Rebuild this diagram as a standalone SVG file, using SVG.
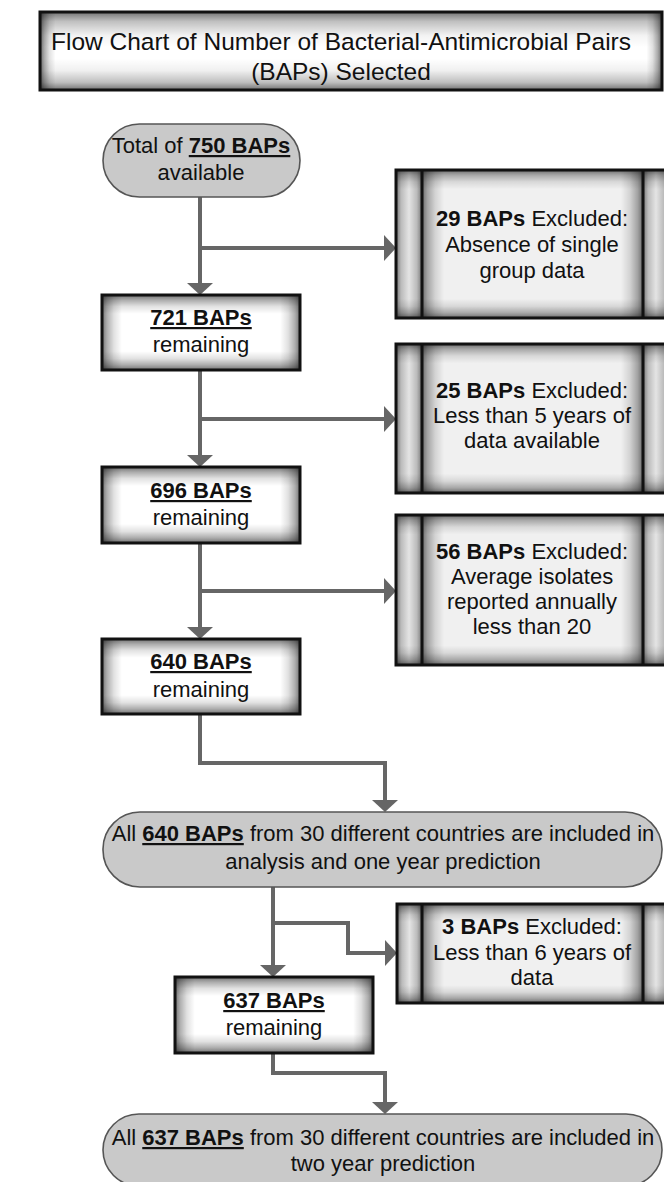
<svg xmlns="http://www.w3.org/2000/svg" width="664" height="1182" viewBox="0 0 664 1182">
<style>
text{font-family:"Liberation Sans",Arial,sans-serif;fill:#111;text-anchor:middle}
.t22{font-size:22px}
.title{font-size:24.5px}
.b{font-weight:bold}
.u{font-weight:bold;text-decoration:underline}
.wf{fill:#ffffff}
.gf{fill:#f0f0f0}
.boxs{fill:none;stroke:#111;stroke-width:3}
.term{fill:#c9c9c9;stroke:#555;stroke-width:1.6}
.con{fill:none;stroke:#666;stroke-width:4;stroke-linejoin:miter}
</style>
<defs>
<linearGradient id="gH6" x1="0" y1="0" x2="1" y2="0">
<stop offset="0" stop-color="#000" stop-opacity="0.55"/>
<stop offset="0.025" stop-color="#000" stop-opacity="0.32"/>
<stop offset="0.06" stop-color="#000" stop-opacity="0.12"/>
<stop offset="0.1" stop-color="#000" stop-opacity="0"/>
<stop offset="0.9" stop-color="#000" stop-opacity="0"/>
<stop offset="0.94" stop-color="#000" stop-opacity="0.12"/>
<stop offset="0.975" stop-color="#000" stop-opacity="0.32"/>
<stop offset="1" stop-color="#000" stop-opacity="0.55"/>
</linearGradient>
<linearGradient id="gH2" x1="0" y1="0" x2="1" y2="0">
<stop offset="0" stop-color="#000" stop-opacity="0.6"/>
<stop offset="0.007" stop-color="#000" stop-opacity="0.33"/>
<stop offset="0.015" stop-color="#000" stop-opacity="0.12"/>
<stop offset="0.025" stop-color="#000" stop-opacity="0"/>
<stop offset="0.975" stop-color="#000" stop-opacity="0"/>
<stop offset="0.985" stop-color="#000" stop-opacity="0.12"/>
<stop offset="0.993" stop-color="#000" stop-opacity="0.33"/>
<stop offset="1" stop-color="#000" stop-opacity="0.6"/>
</linearGradient>
<linearGradient id="gHs" x1="0" y1="0" x2="1" y2="0">
<stop offset="0" stop-color="#000" stop-opacity="0.5"/>
<stop offset="0.2" stop-color="#000" stop-opacity="0.22"/>
<stop offset="0.5" stop-color="#000" stop-opacity="0.05"/>
<stop offset="0.8" stop-color="#000" stop-opacity="0.22"/>
<stop offset="1" stop-color="#000" stop-opacity="0.5"/>
</linearGradient>
<linearGradient id="gV16" x1="0" y1="0" x2="0" y2="1">
<stop offset="0" stop-color="#000" stop-opacity="0.55"/>
<stop offset="0.07" stop-color="#000" stop-opacity="0.32"/>
<stop offset="0.15" stop-color="#000" stop-opacity="0.12"/>
<stop offset="0.25" stop-color="#000" stop-opacity="0"/>
<stop offset="0.75" stop-color="#000" stop-opacity="0"/>
<stop offset="0.85" stop-color="#000" stop-opacity="0.12"/>
<stop offset="0.93" stop-color="#000" stop-opacity="0.32"/>
<stop offset="1" stop-color="#000" stop-opacity="0.55"/>
</linearGradient>
<linearGradient id="gV8" x1="0" y1="0" x2="0" y2="1">
<stop offset="0" stop-color="#000" stop-opacity="0.55"/>
<stop offset="0.035" stop-color="#000" stop-opacity="0.3"/>
<stop offset="0.08" stop-color="#000" stop-opacity="0.1"/>
<stop offset="0.13" stop-color="#000" stop-opacity="0"/>
<stop offset="0.87" stop-color="#000" stop-opacity="0"/>
<stop offset="0.92" stop-color="#000" stop-opacity="0.1"/>
<stop offset="0.965" stop-color="#000" stop-opacity="0.3"/>
<stop offset="1" stop-color="#000" stop-opacity="0.55"/>
</linearGradient>
<linearGradient id="gV12" x1="0" y1="0" x2="0" y2="1">
<stop offset="0" stop-color="#000" stop-opacity="0.55"/>
<stop offset="0.05" stop-color="#000" stop-opacity="0.3"/>
<stop offset="0.11" stop-color="#000" stop-opacity="0.1"/>
<stop offset="0.18" stop-color="#000" stop-opacity="0"/>
<stop offset="0.82" stop-color="#000" stop-opacity="0"/>
<stop offset="0.89" stop-color="#000" stop-opacity="0.1"/>
<stop offset="0.95" stop-color="#000" stop-opacity="0.3"/>
<stop offset="1" stop-color="#000" stop-opacity="0.55"/>
</linearGradient>
<linearGradient id="gVt" x1="0" y1="0" x2="0" y2="1">
<stop offset="0" stop-color="#000" stop-opacity="0.55"/>
<stop offset="0.12" stop-color="#000" stop-opacity="0.25"/>
<stop offset="0.3" stop-color="#000" stop-opacity="0.05"/>
<stop offset="0.45" stop-color="#000" stop-opacity="0"/>
<stop offset="0.6" stop-color="#000" stop-opacity="0"/>
<stop offset="0.75" stop-color="#000" stop-opacity="0.06"/>
<stop offset="0.9" stop-color="#000" stop-opacity="0.25"/>
<stop offset="1" stop-color="#000" stop-opacity="0.55"/>
</linearGradient>
<marker id="ah" markerUnits="userSpaceOnUse" viewBox="0 0 12 26" markerWidth="12" markerHeight="26" refX="0" refY="13" orient="auto">
<path d="M0,0 L12,13 L0,26 Z" fill="#666"/>
</marker>
</defs>

<g id="title">
<rect class="wf" x="40" y="12" width="622" height="78"/>
<rect fill="url(#gVt)" x="40" y="12" width="622" height="78"/>
<rect fill="url(#gH2)" x="40" y="12" width="622" height="78"/>
<rect class="boxs" x="40" y="12" width="622" height="78"/>
<text class="title" x="341" y="50">Flow Chart of Number of Bacterial-Antimicrobial Pairs</text>
<text class="title" x="341" y="80">(BAPs) Selected</text>
</g>

<g id="connectors">
<path class="con" marker-end="url(#ah)" d="M200,197 V283"/>
<path class="con" marker-end="url(#ah)" d="M200,248 H384"/>
<path class="con" marker-end="url(#ah)" d="M200,370 V455"/>
<path class="con" marker-end="url(#ah)" d="M200,419 H384"/>
<path class="con" marker-end="url(#ah)" d="M200,543 V627"/>
<path class="con" marker-end="url(#ah)" d="M200,591 H384"/>
<path class="con" marker-end="url(#ah)" d="M200,714 V763 H385 V800"/>
<path class="con" marker-end="url(#ah)" d="M385,885 H273 V965"/>
<path class="con" marker-end="url(#ah)" d="M273,923 H348 V953 H385"/>
<path class="con" marker-end="url(#ah)" d="M273,1053 V1073 H385 V1102"/>
</g>

<g id="start">
<rect class="term" x="103" y="124" width="197" height="73" rx="36.5" ry="36.5"/>
<text class="t22" x="201" y="153">Total of <tspan class="u">750 BAPs</tspan></text>
<text class="t22" x="201" y="180">available</text>
</g>

<g id="excl1">
<rect class="gf" x="396" y="170" width="273" height="148"/>
<rect fill="url(#gHs)" x="396" y="170" width="26" height="148"/>
<rect fill="url(#gV8)" x="396" y="170" width="26" height="148"/>
<rect fill="url(#gH6)" x="422" y="170" width="221" height="148"/>
<rect fill="url(#gV8)" x="422" y="170" width="221" height="148"/>
<rect fill="url(#gHs)" x="643" y="170" width="26" height="148"/>
<rect fill="url(#gV8)" x="643" y="170" width="26" height="148"/>
<rect class="boxs" x="396" y="170" width="273" height="148"/>
<path class="boxs" d="M422,170 V318 M643,170 V318"/>
<text class="t22" x="532" y="226"><tspan class="b">29 BAPs</tspan> Excluded:</text>
<text class="t22" x="532" y="252">Absence of single</text>
<text class="t22" x="532" y="278">group data</text>
</g>

<g id="r721">
<rect class="wf" x="102" y="295" width="198" height="75"/>
<rect fill="url(#gH6)" x="102" y="295" width="198" height="75"/>
<rect fill="url(#gV16)" x="102" y="295" width="198" height="75"/>
<rect class="boxs" x="102" y="295" width="198" height="75"/>
<text class="t22" x="201" y="325"><tspan class="u">721 BAPs</tspan></text>
<text class="t22" x="201" y="352">remaining</text>
</g>

<g id="excl2">
<rect class="gf" x="396" y="344" width="273" height="149"/>
<rect fill="url(#gHs)" x="396" y="344" width="26" height="149"/>
<rect fill="url(#gV8)" x="396" y="344" width="26" height="149"/>
<rect fill="url(#gH6)" x="422" y="344" width="221" height="149"/>
<rect fill="url(#gV8)" x="422" y="344" width="221" height="149"/>
<rect fill="url(#gHs)" x="643" y="344" width="26" height="149"/>
<rect fill="url(#gV8)" x="643" y="344" width="26" height="149"/>
<rect class="boxs" x="396" y="344" width="273" height="149"/>
<path class="boxs" d="M422,344 V493 M643,344 V493"/>
<text class="t22" x="532" y="398"><tspan class="b">25 BAPs</tspan> Excluded:</text>
<text class="t22" x="532" y="423">Less than 5 years of</text>
<text class="t22" x="532" y="448">data available</text>
</g>

<g id="r696">
<rect class="wf" x="102" y="467" width="198" height="76"/>
<rect fill="url(#gH6)" x="102" y="467" width="198" height="76"/>
<rect fill="url(#gV16)" x="102" y="467" width="198" height="76"/>
<rect class="boxs" x="102" y="467" width="198" height="76"/>
<text class="t22" x="201" y="498"><tspan class="u">696 BAPs</tspan></text>
<text class="t22" x="201" y="525">remaining</text>
</g>

<g id="excl3">
<rect class="gf" x="396" y="515" width="273" height="150"/>
<rect fill="url(#gHs)" x="396" y="515" width="26" height="150"/>
<rect fill="url(#gV8)" x="396" y="515" width="26" height="150"/>
<rect fill="url(#gH6)" x="422" y="515" width="221" height="150"/>
<rect fill="url(#gV8)" x="422" y="515" width="221" height="150"/>
<rect fill="url(#gHs)" x="643" y="515" width="26" height="150"/>
<rect fill="url(#gV8)" x="643" y="515" width="26" height="150"/>
<rect class="boxs" x="396" y="515" width="273" height="150"/>
<path class="boxs" d="M422,515 V665 M643,515 V665"/>
<text class="t22" x="532" y="559"><tspan class="b">56 BAPs</tspan> Excluded:</text>
<text class="t22" x="532" y="584">Average isolates</text>
<text class="t22" x="532" y="609">reported annually</text>
<text class="t22" x="532" y="634">less than 20</text>
</g>

<g id="r640">
<rect class="wf" x="102" y="639" width="198" height="75"/>
<rect fill="url(#gH6)" x="102" y="639" width="198" height="75"/>
<rect fill="url(#gV16)" x="102" y="639" width="198" height="75"/>
<rect class="boxs" x="102" y="639" width="198" height="75"/>
<text class="t22" x="201" y="669"><tspan class="u">640 BAPs</tspan></text>
<text class="t22" x="201" y="697">remaining</text>
</g>

<g id="all640">
<rect class="term" x="103" y="812" width="559" height="75" rx="37" ry="37"/>
<text class="t22" x="383" y="841">All <tspan class="u">640 BAPs</tspan> from 30 different countries are included in</text>
<text class="t22" x="383" y="869">analysis and one year prediction</text>
</g>

<g id="excl4">
<rect class="gf" x="397" y="904" width="272" height="99"/>
<rect fill="url(#gHs)" x="397" y="904" width="25" height="99"/>
<rect fill="url(#gV12)" x="397" y="904" width="25" height="99"/>
<rect fill="url(#gH6)" x="422" y="904" width="221" height="99"/>
<rect fill="url(#gV12)" x="422" y="904" width="221" height="99"/>
<rect fill="url(#gHs)" x="643" y="904" width="26" height="99"/>
<rect fill="url(#gV12)" x="643" y="904" width="26" height="99"/>
<rect class="boxs" x="397" y="904" width="272" height="99"/>
<path class="boxs" d="M422,904 V1003 M643,904 V1003"/>
<text class="t22" x="532" y="934"><tspan class="b">3 BAPs</tspan> Excluded:</text>
<text class="t22" x="532" y="960">Less than 6 years of</text>
<text class="t22" x="532" y="985">data</text>
</g>

<g id="r637">
<rect class="wf" x="175" y="977" width="198" height="76"/>
<rect fill="url(#gH6)" x="175" y="977" width="198" height="76"/>
<rect fill="url(#gV16)" x="175" y="977" width="198" height="76"/>
<rect class="boxs" x="175" y="977" width="198" height="76"/>
<text class="t22" x="274" y="1008"><tspan class="u">637 BAPs</tspan></text>
<text class="t22" x="274" y="1035">remaining</text>
</g>

<g id="all637">
<rect class="term" x="103" y="1114" width="559" height="72" rx="36" ry="36"/>
<text class="t22" x="383" y="1145">All <tspan class="u">637 BAPs</tspan> from 30 different countries are included in</text>
<text class="t22" x="383" y="1171">two year prediction</text>
</g>
</svg>
